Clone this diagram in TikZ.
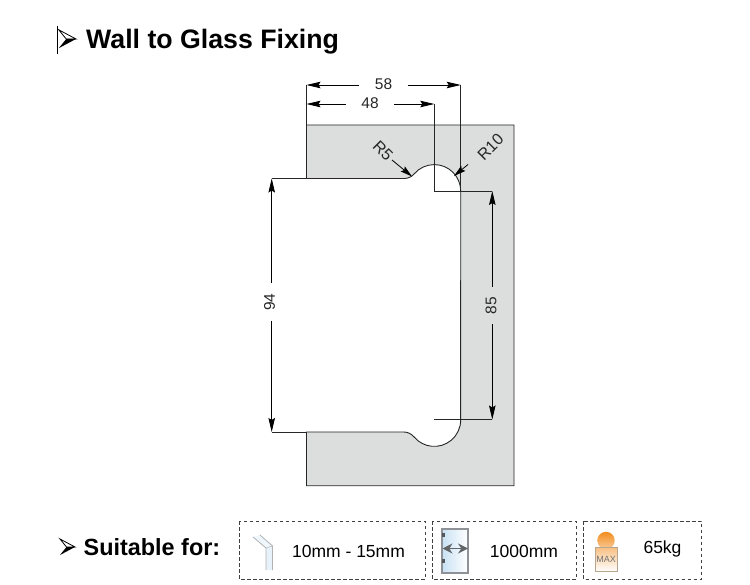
\documentclass[tikz,border=0pt]{standalone}
\usepackage{fontspec}
\setmainfont{Liberation Sans}
\usepackage{tikz}
\usetikzlibrary{arrows.meta}

\definecolor{platefill}{HTML}{DCDDDD}
\definecolor{iconframe}{HTML}{8E9296}
\definecolor{iconblue}{HTML}{C9E2F4}
\definecolor{ballorange}{HTML}{F28C1E}
\definecolor{weightframe}{HTML}{B7A58F}

\tikzset{
    plate/.style={draw=black!85, fill=platefill, line width=0.9pt},
    extline/.style={draw=black!85, line width=0.7pt},
    dimline/.style={draw=black, line width=0.8pt, -{Stealth[length=14pt,width=6.5pt,inset=2pt]}},
    leaderline/.style={draw=black, line width=0.8pt, -{Stealth[length=12pt,width=6.5pt,inset=2pt]}},
    dimtext/.style={inner sep=0pt, minimum height=12pt, minimum width=48pt, text=black!85,
        font=\fontsize{15.5}{17}\selectfont},
    dimtextv/.style={dimtext, rotate=90, minimum width=37pt},
    radiustext/.style={inner sep=0pt, text=black!85, font=\fontsize{16}{18}\selectfont},
    boxframe/.style={draw=black!75, dashed, dash pattern=on 3.5pt off 2.5pt, line width=0.8pt},
    boxtext/.style={inner sep=0pt, font=\fontsize{17.5}{20}\selectfont},
    bulletmark/.pic={
        \fill[black] (0,0) -- (-15,8) -- (-8.5,0) -- cycle;
        \draw[black, line width=0.8pt, line join=miter] (0,0) -- (-15,-8) -- (-8.5,0) -- cycle;
    }
}

\begin{document}
\begin{tikzpicture}[x=1pt,y=-1pt]
    \useasboundingbox (0,0) rectangle (750,585);

    % heading
    \draw[black, line width=0.7pt] (57,26) -- (57,54);
    \pic[scale=1.15] at (76,39) {bulletmark};
    \node[anchor=base west, inner sep=0pt, font=\bfseries\fontsize{26.7}{30}\selectfont] (title) at (86,48.5) {Wall to Glass Fixing};

    % plate outline
    \draw[plate] (306.5,125) -- (514,125) -- (514,485.7) -- (306.5,485.7) -- (306.5,432) -- (403.7,432)
        arc[start angle=-90, end angle=-39.6, radius=13.3]
        arc[start angle=140.4, end angle=0, radius=26.4]
        -- (460.7,191)
        arc[start angle=0, end angle=-139.5, radius=26.4]
        arc[start angle=40.5, end angle=90, radius=13.3]
        -- (306.5,178.5) -- cycle;

    % end points of the dimensions
    \coordinate (a58l) at (306.5,85);
    \coordinate (a58r) at (460.7,85);
    \coordinate (a48l) at (306.5,104);
    \coordinate (a48r) at (434.3,104);
    \coordinate (a94t) at (271.7,178.5);
    \coordinate (a94b) at (271.7,432);
    \coordinate (a85t) at (492.3,191);
    \coordinate (a85b) at (492.3,419.5);
    \coordinate (platetl) at (306.5,125);
    \coordinate (plateuf) at (306.5,178.5);
    \coordinate (platelf) at (306.5,432);
    \coordinate (rightup) at (460.7,191);
    \coordinate (midup) at (434.3,191);
    \coordinate (midlow) at (434.3,419.5);

    % extension lines
    \draw[extline] (a58l) -- (platetl);
    \draw[extline] (a58r) -- (rightup);
    \draw[extline] (a48r) -- (midup) -- (a85t);
    \draw[extline] (midlow) -- (a85b);
    \draw[extline] (a94t) -- (plateuf);
    \draw[extline] (a94b) -- (platelf);

    % dimensions
    \node[dimtext] (l58) at (383.5,84) {58};
    \node[dimtext] (l48) at (370,103) {48};
    \node[dimtextv] (l94) at (269.5,302) {94};
    \node[dimtextv] (l85) at (491,305.5) {85};
    \draw[dimline] (l58.west |- a58l) -- (a58l);
    \draw[dimline] (l58.east |- a58r) -- (a58r);
    \draw[dimline] (l48.west |- a48l) -- (a48l);
    \draw[dimline] (l48.east |- a48r) -- (a48r);
    \draw[dimline] (a94t |- l94.east) -- (a94t);
    \draw[dimline] (a94b |- l94.west) -- (a94b);
    \draw[dimline] (a85t |- l85.east) -- (a85t);
    \draw[dimline] (a85b |- l85.west) -- (a85b);

    % radii
    \node[radiustext, rotate=-45] (r5) at (383,151) {R5};
    \node[radiustext, rotate=45] (r10) at (490.5,147) {R10};
    \coordinate (r5tail) at (392,160);
    \coordinate (r5tip) at (412,176.5);
    \coordinate (r10tail) at (468,164.5);
    \coordinate (r10tip) at (454,176);
    \draw[leaderline] (r5tail) -- (r5tip);
    \draw[leaderline] (r10tail) -- (r10tip);

    % suitable for
    \pic at (75,547) {bulletmark};
    \node[anchor=base west, inner sep=0pt, font=\bfseries\fontsize{23.4}{26}\selectfont] (suitable) at (83.5,555) {Suitable for:};

    \draw[boxframe] (239,521) rectangle (425,579);
    \draw[boxframe] (432,521) rectangle (576,579);
    \draw[boxframe] (583.5,521) rectangle (701.5,579);
    \node[boxtext] (thick) at (348.5,551) {10mm - 15mm};
    \node[boxtext] (width) at (524,551) {1000mm};
    \node[boxtext] (weight) at (662.5,549) {65kg};

    % glass icon
    \fill[iconblue!45] (266,548) -- (272.5,546) -- (272.5,570) -- (266,570) -- cycle;
    \fill[iconblue!30] (253,537) -- (260,535) -- (273,545) -- (266,548) -- cycle;
    \draw[iconframe!70, line width=0.8pt] (253,537) -- (266,548) -- (266,570);
    \draw[iconframe!70, line width=0.8pt] (260,535) -- (272.5,546) -- (272.5,570);
    \draw[iconframe!60, line width=0.6pt] (266,548) -- (272.5,546);

    % door icon
    \shade[left color=iconblue, right color=white] (442,529) rectangle (468,573);
    \draw[iconframe, line width=1.2pt] (442,529) rectangle (468,573);
    \fill[iconframe!60!black] (442,533) rectangle (445,537);
    \fill[iconframe!60!black] (442,559) rectangle (445,563);
    \draw[iconframe!70!black, line width=1.8pt, {Stealth[length=10pt,width=10pt]}-{Stealth[length=10pt,width=10pt]}] (442.5,548.5) -- (468,548.5);

    % weight icon
    \shade[top color=ballorange, bottom color=ballorange!45] (606,540.5) circle (8.7);
    \shade[top color=ballorange!55, bottom color=white] (595,547.5) rectangle (617.5,571.5);
    \draw[weightframe, line width=1pt] (595,547.5) rectangle (617.5,571.5);
    \node[inner sep=0pt, text=black!55, font=\fontsize{9}{11}\selectfont] (maxlabel) at (606,559) {MAX};
\end{tikzpicture}
\end{document}
